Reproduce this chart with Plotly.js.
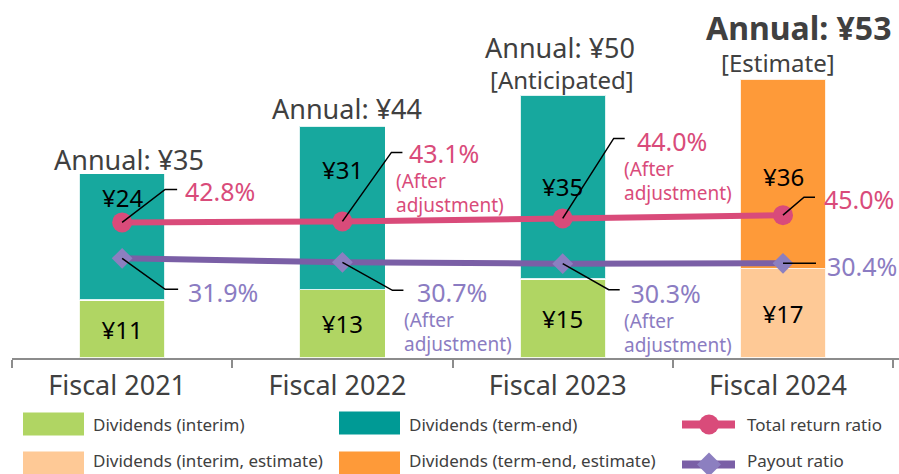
<!DOCTYPE html>
<html><head><meta charset="utf-8">
<script src="https://cdn.plot.ly/plotly-3.0.1.min.js"></script>
<style>html,body{margin:0;padding:0;background:#fff}#chart{width:899px;height:474px}</style>
</head><body><div id="chart"></div>
<script>
// ---- data ----
const categories = ['Fiscal 2021', 'Fiscal 2022', 'Fiscal 2023', 'Fiscal 2024'];
const interim = [11, 13, 15, null];
const termEnd = [24, 31, 35, null];
const interimEst = [null, null, null, 17];
const termEndEst = [null, null, null, 36];
const totalReturn = [42.8, 43.1, 44.0, 45.0];
const payout = [31.9, 30.7, 30.3, 30.4];
const annualNotes = ['', '', '[Anticipated]', '[Estimate]'];
const ratioNotes = ['', '(After<br>adjustment)', '(After<br>adjustment)', ''];
const seriesNames = ['Dividends (interim)', 'Dividends (term-end)', 'Total return ratio',
  'Dividends (interim, estimate)', 'Dividends (term-end, estimate)', 'Payout ratio'];

// ---- styles / positions ----
const FONT = 'Noto Sans, Open Sans, sans-serif';
const TXT = '#404040';
const C = {green:'#b0d563', teal:'#17a89e', tealLeg:'#009a95', orange:'#fe9a39', lorange:'#fec996',
  pink:'#d94b7a', purpleLine:'#7a5fa6', purpleMk:'#8c7fc0', purpleTxt:'#8b7cc2'};
const W = 899, H = 474, ML = 12, MR = 0, MT = 0, MB = 116;
const PW = W - ML - MR, PH = H - MT - MB;
const px = x => (x - ML) / PW;
const py = y => (H - MB - y) / PH;

const annualPos = [{dx:7, dy:14}, {dx:5, dy:18}, {dx:-3, dy:47}, {dx:15, dy:51}];
const notePos = [null, null, {dx:-1, dy:15}, {dx:-5, dy:16}];
const termLabelDrop = [24, 43, 92, 98];
const trLeader = [[43,33,55], [49,69,60], [51,80,62], [21,18,32]];
const prLeader = [[43,-31,56], [50,-28,61], [46,-26,57], [0,0,33]];
// single-line labels: dx/dy of % text; multi-line blocks: nx/ny of block, indent = nbsp count for % line
const trLabel = [{dx:61,dy:31}, {nx:53,ny:44,indent:2}, {nx:60,ny:53,indent:2}, {dx:39,dy:16}];
const prLabel = [{dx:64,dy:-34}, {nx:61,ny:-54,indent:2}, {nx:60,ny:-53,indent:1}, {dx:42,dy:-3}];

const idx = categories.map((_, i) => i);
const barBase = {type:'bar', x:categories, width:0.39, hoverinfo:'skip', showlegend:false,
  marker:{line:{color:'rgba(255,255,255,0.85)', width:1.5}}};
const inTxt = {texttemplate:'¥%{y}', textposition:'inside', insidetextanchor:'middle', constraintext:'none',
  textfont:{family:FONT, size:24, color:'#000'}};

const traces = [
  Object.assign({}, barBase, inTxt, {name:seriesNames[0], y:interim, marker:Object.assign({}, barBase.marker, {color:C.green})}),
  Object.assign({}, barBase, inTxt, {name:seriesNames[3], y:interimEst, marker:Object.assign({}, barBase.marker, {color:C.lorange})}),
  Object.assign({}, barBase, {name:seriesNames[1], y:termEnd, marker:Object.assign({}, barBase.marker, {color:C.teal})}),
  Object.assign({}, barBase, {name:seriesNames[4], y:termEndEst, marker:Object.assign({}, barBase.marker, {color:C.orange})}),
  {type:'scatter', mode:'lines+markers', name:seriesNames[2], x:categories, y:totalReturn, yaxis:'y2',
   hoverinfo:'skip', showlegend:false, line:{color:C.pink, width:6},
   marker:{symbol:'circle', size:20, color:C.pink}},
  {type:'scatter', mode:'lines+markers', name:seriesNames[5], x:categories, y:payout, yaxis:'y2',
   hoverinfo:'skip', showlegend:false, line:{color:C.purpleLine, width:6},
   marker:{symbol:'diamond', size:16, color:C.purpleMk}}
];

const annotations = [];
const shapes = [];

// annual totals above bars
idx.forEach(i => {
  const total = (interim[i] || interimEst[i]) + (termEnd[i] || termEndEst[i]);
  const est = i === 3;
  annotations.push({x:i, y:total, xref:'x', yref:'y', showarrow:false, xanchor:'center', yanchor:'middle',
    xshift:annualPos[i].dx, yshift:annualPos[i].dy,
    text: est ? '<b>Annual: ¥' + total + '</b>' : 'Annual: ¥' + total,
    font:{family:FONT, size: est ? 32 : 27, color:TXT}});
  if (annualNotes[i]) {
    annotations.push({x:i, y:total, xref:'x', yref:'y', showarrow:false, xanchor:'center', yanchor:'middle',
      xshift:notePos[i].dx, yshift:notePos[i].dy, text:annualNotes[i],
      font:{family:FONT, size:24, color:TXT}});
  }
  // term-end label inside bar
  const te = termEnd[i] || termEndEst[i];
  annotations.push({x:i, y:total, xref:'x', yref:'y', showarrow:false, xanchor:'center', yanchor:'middle',
    yshift:-termLabelDrop[i], text:'¥' + te, font:{family:FONT, size:24, color:'#000'}});
});

// ratio labels + leader lines
function ratioLabels(vals, leader, lab, color) {
  idx.forEach(i => {
    const L = leader[i];
    shapes.push({type:'path', xref:'x', yref:'y2', xsizemode:'pixel', ysizemode:'pixel',
      xanchor:i, yanchor:vals[i],
      path: 'M0,0 L' + L[0] + ',' + L[1] + ' L' + L[2] + ',' + L[1],
      line:{color:'#000', width:1.5}});
    const pct = vals[i].toFixed(1) + '%';
    if (ratioNotes[i]) {
      annotations.push({x:i, y:vals[i], xref:'x', yref:'y2', showarrow:false, xanchor:'left', yanchor:'middle',
        align:'left', xshift:lab[i].nx, yshift:lab[i].ny, borderpad:0,
        text:'<span style="font-size:25px">' + '&nbsp;'.repeat(lab[i].indent) + pct + '</span><br>' + ratioNotes[i],
        font:{family:FONT, size:19, color:color}});
    } else {
      annotations.push({x:i, y:vals[i], xref:'x', yref:'y2', showarrow:false, xanchor:'left', yanchor:'middle',
        xshift:lab[i].dx, yshift:lab[i].dy, text:pct,
        font:{family:FONT, size:25, color:color}});
    }
  });
}
ratioLabels(totalReturn, trLeader, trLabel, C.pink);
ratioLabels(payout, prLeader, prLabel, C.purpleTxt);

// custom legend
const legendItems = [
  {name:seriesNames[0], kind:'box', color:C.green, x:23, y:424},
  {name:seriesNames[1], kind:'box', color:C.tealLeg, x:339, y:423},
  {name:seriesNames[2], kind:'circle', color:C.pink, x:679, y:424.5},
  {name:seriesNames[3], kind:'box', color:C.lorange, x:23, y:463},
  {name:seriesNames[4], kind:'box', color:C.orange, x:339, y:463},
  {name:seriesNames[5], kind:'diamond', color:C.purpleLine, mk:C.purpleMk, x:679, y:464.5}
];
legendItems.forEach((it, k) => {
  let tx;
  if (it.kind === 'box') {
    shapes.push({type:'rect', xref:'paper', yref:'paper', x0:px(it.x), x1:px(it.x + 61),
      y0:py(it.y - 11.5), y1:py(it.y + 11.5), fillcolor:it.color, line:{width:0}});
    tx = it.x + 69;
  } else {
    shapes.push({type:'line', xref:'paper', yref:'paper', x0:px(it.x + 3), x1:px(it.x + 56),
      y0:py(it.y), y1:py(it.y), line:{color:it.color, width:8}});
    if (it.kind === 'circle') {
      shapes.push({type:'circle', xref:'paper', yref:'paper', x0:px(it.x + 20), x1:px(it.x + 40),
        y0:py(it.y + 10), y1:py(it.y - 10), fillcolor:it.color, line:{width:0}});
    } else {
      shapes.push({type:'path', xref:'paper', yref:'paper', xsizemode:'pixel', ysizemode:'pixel',
        xanchor:px(it.x + 30), yanchor:py(it.y), path:'M-12,0 L0,12 L12,0 L0,-12 Z',
        fillcolor:it.mk, line:{width:0}});
    }
    tx = it.x + 67;
  }
  const ty = k < 3 ? 425 : 461;
  annotations.push({xref:'paper', yref:'paper', x:px(tx), y:py(ty), xanchor:'left', yanchor:'middle',
    showarrow:false, borderpad:0, text:it.name, font:{family:FONT, size:17, color:TXT}});
});

const layout = {
  width:W, height:H, margin:{l:ML, r:MR, t:MT, b:MB, pad:0},
  paper_bgcolor:'#fff', plot_bgcolor:'#fff', barmode:'stack', showlegend:false,
  font:{family:FONT, color:TXT},
  xaxis:{type:'category', showline:true, linecolor:'#8c8c8c', linewidth:2, ticks:'outside',
    tickson:'boundaries', ticklen:8, tickwidth:2, tickcolor:'#8c8c8c', ticklabelshift:-5, ticklabelstandoff:3,
    tickfont:{family:FONT, size:27, color:TXT}, showgrid:false, zeroline:false, fixedrange:true},
  yaxis:{range:[0, 68], visible:false, showgrid:false, zeroline:false, fixedrange:true},
  yaxis2:{range:[1.7, 110.2], overlaying:'y', visible:false, showgrid:false, zeroline:false, fixedrange:true},
  annotations:annotations, shapes:shapes
};

Plotly.newPlot('chart', traces, layout, {staticPlot:true, displayModeBar:false});
</script>
</body></html>
